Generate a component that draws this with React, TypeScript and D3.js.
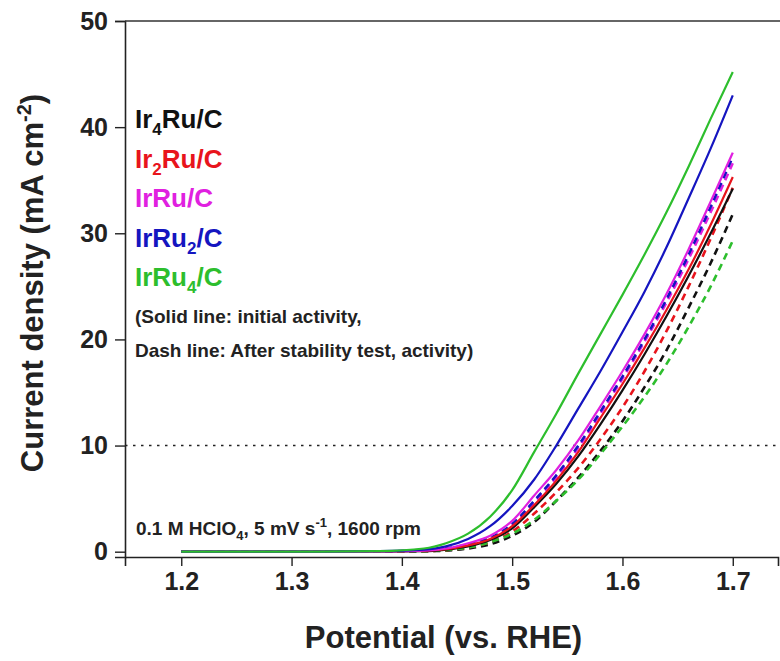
import { useEffect, useRef } from "react";
import * as d3 from "d3";

const volts = [1.2, 1.3, 1.38, 1.42, 1.44, 1.46, 1.48, 1.5, 1.52, 1.54, 1.56, 1.58, 1.6, 1.62, 1.64, 1.66, 1.68, 1.7];

const samples = ["Ir4Ru/C", "Ir2Ru/C", "IrRu/C", "IrRu2/C", "IrRu4/C"];
const colors = ["#111111", "#e8141c", "#e020e0", "#1515c0", "#2dbe2d"];

// initial activity (solid)
const initial = [
  [0, 0, 0.02, 0.05, 0.2, 0.5, 1.1, 2.2, 4.2, 6.4, 9.0, 12.0, 15.2, 18.6, 22.2, 26.0, 30.0, 34.2],
  [0, 0, 0.03, 0.1, 0.25, 0.6, 1.2, 2.4, 4.4, 6.7, 9.4, 12.6, 15.8, 19.2, 22.8, 26.6, 30.8, 35.3],
  [0, 0, 0.03, 0.1, 0.3, 0.8, 1.5, 2.9, 5.3, 7.7, 10.5, 13.7, 17.0, 20.5, 24.3, 28.5, 33.0, 37.6],
  [0, 0, 0.05, 0.2, 0.5, 1.2, 2.4, 4.3, 6.8, 10.0, 13.5, 17.0, 20.7, 24.5, 28.7, 33.3, 38.0, 43.0],
  [0, 0, 0.05, 0.3, 0.8, 1.7, 3.3, 5.8, 9.4, 13.0, 16.8, 20.5, 24.2, 28.0, 32.0, 36.3, 40.8, 45.2],
];

// after stability test (dashed)
const afterTest = [
  [0, 0, 0.02, 0.05, 0.1, 0.3, 0.7, 1.5, 2.8, 4.8, 7.0, 9.5, 12.3, 15.5, 19.0, 23.0, 27.2, 31.8],
  [0, 0, 0.02, 0.05, 0.15, 0.4, 0.9, 1.9, 3.6, 5.6, 7.9, 10.6, 13.6, 17.0, 20.8, 25.0, 29.5, 34.3],
  [0, 0, 0.03, 0.1, 0.25, 0.6, 1.2, 2.5, 4.6, 7.0, 9.8, 13.0, 16.3, 19.8, 23.5, 27.6, 32.0, 36.6],
  [0, 0, 0.03, 0.1, 0.3, 0.7, 1.3, 2.6, 4.8, 7.2, 10.0, 13.2, 16.5, 20.0, 23.8, 28.0, 32.5, 37.2],
  [0, 0, 0.02, 0.05, 0.15, 0.4, 0.9, 1.7, 3.0, 4.8, 6.8, 9.2, 11.8, 14.6, 17.7, 21.2, 25.0, 29.3],
];

const xTicks = [1.2, 1.3, 1.4, 1.5, 1.6, 1.7];
const yTicks = [0, 10, 20, 30, 40, 50];

const FONT = "'Liberation Sans', Arial, sans-serif";

export default function App() {
  const svgRef = useRef<SVGSVGElement>(null);
  const width = 780;
  const height = 661;

  useEffect(() => {
    const svg = d3.select(svgRef.current);
    svg.selectAll("*").remove();

    const margin = { top: 21, right: 2, bottom: 104, left: 125 };
    const innerWidth = width - margin.left - margin.right;
    const innerHeight = height - margin.top - margin.bottom;

    const x = d3.scaleLinear().domain([1.149, 1.741]).range([0, innerWidth]);
    const y = d3.scaleLinear().domain([-0.5, 50]).range([innerHeight, 0]);

    const g = svg.append("g").attr("transform", `translate(${margin.left},${margin.top})`);

    // 10 mA reference line
    g.append("line")
      .attr("x1", 0).attr("x2", innerWidth)
      .attr("y1", y(10)).attr("y2", y(10))
      .attr("stroke", "#222").attr("stroke-width", 1.6)
      .attr("stroke-dasharray", "2.5,5.5");

    const line = d3.line<number>()
      .x((_, i) => x(volts[i]))
      .y(d => y(d))
      .curve(d3.curveMonotoneX);

    // dashed first, solid on top
    afterTest.forEach((vals, k) => {
      g.append("path")
        .attr("d", line(vals))
        .attr("fill", "none")
        .attr("stroke", colors[k])
        .attr("stroke-width", 2.6)
        .attr("stroke-dasharray", "7,5");
    });
    initial.forEach((vals, k) => {
      g.append("path")
        .attr("d", line(vals))
        .attr("fill", "none")
        .attr("stroke", colors[k])
        .attr("stroke-width", 2.2);
    });

    // axes
    const xAxis = g.append("g").attr("transform", `translate(0,${innerHeight})`);
    xAxis.call(d3.axisBottom(x).tickValues(d3.range(1.2, 1.7001, 0.05)).tickSize(5).tickFormat(() => ""));
    xAxis.call(d3.axisBottom(x).tickValues(xTicks).tickSize(9).tickPadding(6).tickFormat(d3.format(".1f")));

    const yAxis = g.append("g");
    yAxis.call(d3.axisLeft(y).tickValues(d3.range(5, 50, 10)).tickSize(5).tickFormat(() => ""));
    yAxis.call(d3.axisLeft(y).tickValues(yTicks).tickSize(10).tickPadding(7));

    svg.selectAll(".domain").attr("stroke", "#222").attr("stroke-width", 1.6);
    svg.selectAll(".tick line").attr("stroke", "#222").attr("stroke-width", 1.4);
    svg.selectAll(".tick text")
      .attr("font-family", FONT).attr("font-size", 25).attr("font-weight", "bold").attr("fill", "#222");

    // top border
    g.append("line")
      .attr("x1", 0).attr("x2", innerWidth + margin.right)
      .attr("y1", 0).attr("y2", 0)
      .attr("stroke", "#333").attr("stroke-width", 1.6);

    // axis titles
    svg.append("text")
      .attr("x", margin.left + innerWidth / 2 - 8).attr("y", 648)
      .attr("text-anchor", "middle")
      .attr("font-family", FONT).attr("font-size", 31).attr("font-weight", "bold").attr("fill", "#222")
      .text("Potential (vs. RHE)");

    const yt = svg.append("text")
      .attr("transform", "translate(43,283) rotate(-90)")
      .attr("text-anchor", "middle")
      .attr("font-family", FONT).attr("font-size", 31).attr("font-weight", "bold").attr("fill", "#222");
    yt.append("tspan").text("Current density (mA cm");
    yt.append("tspan").attr("font-size", 20).attr("dy", -12).text("-2");
    yt.append("tspan").attr("dy", 12).text(")");

    // legend, digits as subscripts
    samples.forEach((name, k) => {
      const t = svg.append("text")
        .attr("x", 135).attr("y", 128 + k * 39.5)
        .attr("font-family", FONT).attr("font-size", 26).attr("font-weight", "bold")
        .attr("fill", colors[k]);
      let shift = 0;
      name.split(/(\d)/).forEach((p, i) => {
        if (!p) return;
        if (i % 2 === 1) {
          t.append("tspan").attr("font-size", 17).attr("dy", 7 - shift).text(p);
          shift = 7;
        } else {
          t.append("tspan").attr("dy", -shift).text(p);
          shift = 0;
        }
      });
    });

    const notes = ["(Solid line: initial activity,", "Dash line: After stability test, activity)"];
    notes.forEach((n, i) => {
      svg.append("text")
        .attr("x", 135).attr("y", 323 + i * 34)
        .attr("font-family", FONT).attr("font-size", 19).attr("font-weight", "bold").attr("fill", "#222")
        .text(n);
    });

    // conditions
    const c = svg.append("text")
      .attr("x", 136).attr("y", 535)
      .attr("font-family", FONT).attr("font-size", 19).attr("font-weight", "bold").attr("fill", "#222");
    c.append("tspan").text("0.1 M HClO");
    c.append("tspan").attr("font-size", 13).attr("dy", 5).text("4");
    c.append("tspan").attr("dy", -5).text(", 5 mV s");
    c.append("tspan").attr("font-size", 13).attr("dy", -8).text("-1");
    c.append("tspan").attr("dy", 8).text(", 1600 rpm");
  }, []);

  return (
    <svg
      ref={svgRef}
      width={width}
      height={height}
      style={{ position: "absolute", left: 0, top: 0, background: "#fff" }}
    />
  );
}
